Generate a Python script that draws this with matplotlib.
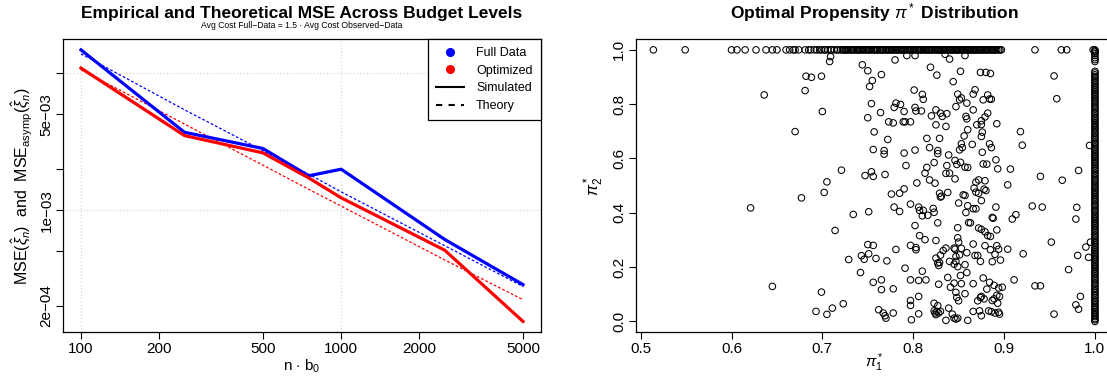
import numpy as np
import matplotlib
matplotlib.use('Agg')
import matplotlib.pyplot as plt
from matplotlib.lines import Line2D

plt.rcParams['font.family'] = ['Liberation Sans', 'DejaVu Sans']
plt.rcParams['mathtext.fontset'] = 'custom'
plt.rcParams['mathtext.rm'] = 'Liberation Sans'
plt.rcParams['mathtext.it'] = 'Liberation Sans:italic'

# ---- left panel data ----
n_budget = [100, 250, 500, 750, 1000, 2500, 5000]
mse_full_sim = [0.01479, 0.00370, 0.00282, 0.00178, 0.00199, 0.000611, 0.000286]
mse_opt_sim = [0.01089, 0.00350, 0.00262, 0.00172, 0.00123, 0.000510, 0.000154]
mse_full_theory = [0.01383, 0.00540, 0.00272, 0.00183, 0.00136, 0.000550, 0.000277]
mse_opt_theory = [0.01058, 0.00425, 0.00213, 0.00142, 0.00107, 0.000433, 0.000222]

y_ticks = [2e-4, 5e-4, 1e-3, 2e-3, 5e-3, 1e-2]
y_ticklabels = ['2e\u221204', '', '1e\u221203', '', '5e\u221203', '']
x_ticks = [100, 200, 500, 1000, 2000, 5000]

# ---- right panel data ----
# points sitting on pi2 = 1
top_pi1 = [0.514, 0.549, 0.600, 0.606, 0.615, 0.627, 0.638, 0.645, 0.650, 0.660,
           0.664, 0.668, 0.670, 0.674, 0.681, 0.685, 0.687, 0.691, 0.694, 0.697,
           0.699, 0.702, 0.703, 0.706, 0.709, 0.710, 0.713, 0.716, 0.717, 0.720,
           0.722, 0.725, 0.726, 0.729, 0.731, 0.732, 0.735, 0.737, 0.740, 0.741,
           0.744, 0.745, 0.747, 0.750, 0.751, 0.754, 0.756, 0.757, 0.760, 0.761,
           0.763, 0.766, 0.767, 0.769, 0.772, 0.773, 0.776, 0.777, 0.779, 0.782,
           0.783, 0.785, 0.787, 0.790, 0.791, 0.793, 0.796, 0.797, 0.800, 0.801,
           0.803, 0.806, 0.807, 0.809, 0.811, 0.814, 0.815, 0.817, 0.820, 0.821,
           0.823, 0.826, 0.827, 0.829, 0.832, 0.833, 0.835, 0.837, 0.840, 0.841,
           0.843, 0.846, 0.847, 0.849, 0.852, 0.853, 0.855, 0.858, 0.859, 0.861,
           0.863, 0.866, 0.867, 0.869, 0.872, 0.873, 0.875, 0.878, 0.879, 0.881,
           0.883, 0.886, 0.887, 0.889, 0.892, 0.894, 0.897, 0.934, 0.963, 0.969,
           0.998, 1.000]
top_pi1_more = [0.7235, 0.7275, 0.7335, 0.7385, 0.7425, 0.7485, 0.7525, 0.7585,
                0.7645, 0.7705, 0.7745, 0.7805, 0.7865, 0.7885, 0.7945, 0.7985,
                0.8045, 0.8085, 0.8125, 0.8165, 0.8185, 0.8245, 0.8285, 0.8305,
                0.8345, 0.8385, 0.8425, 0.8445, 0.8485, 0.8505, 0.8545, 0.8565,
                0.8605, 0.8625, 0.8645, 0.8685, 0.8705, 0.8745, 0.8765, 0.8805,
                0.8845, 0.8885, 0.8905, 0.8955]

# points sitting on pi1 = 1
col_pi2 = [0.000, 0.006, 0.011, 0.018, 0.024, 0.029, 0.036, 0.043, 0.048, 0.055,
           0.061, 0.067, 0.074, 0.079, 0.086, 0.093, 0.098, 0.105, 0.111, 0.118,
           0.123, 0.130, 0.137, 0.142, 0.149, 0.155, 0.161, 0.168, 0.174, 0.180,
           0.187, 0.193, 0.199, 0.206, 0.212, 0.218, 0.225, 0.231, 0.237, 0.243,
           0.250, 0.256, 0.262, 0.269, 0.275, 0.281, 0.288, 0.294, 0.300, 0.307,
           0.313, 0.319, 0.326, 0.332, 0.338, 0.345, 0.351, 0.357, 0.364, 0.370,
           0.376, 0.383, 0.389, 0.395, 0.402, 0.408, 0.414, 0.421, 0.427, 0.433,
           0.440, 0.446, 0.452, 0.459, 0.465, 0.471, 0.478, 0.484, 0.490, 0.497,
           0.503, 0.509, 0.516, 0.522, 0.528, 0.535, 0.541, 0.547, 0.554, 0.560,
           0.566, 0.573, 0.579, 0.585, 0.592, 0.598, 0.604, 0.611, 0.617, 0.623,
           0.630, 0.636, 0.642, 0.649, 0.655, 0.661, 0.668, 0.674, 0.680, 0.687,
           0.693, 0.699, 0.706, 0.712, 0.718, 0.725, 0.731, 0.737, 0.744, 0.750,
           0.756, 0.763, 0.769, 0.775, 0.782, 0.788, 0.794, 0.801, 0.807, 0.813,
           0.820, 0.826, 0.832, 0.839, 0.845, 0.851, 0.858, 0.864, 0.870, 0.877,
           0.883, 0.889, 0.896, 0.902, 0.908, 0.915, 0.921, 0.957, 0.964, 0.971,
           0.979, 0.986, 0.992, 0.996]

# interior points
pi1_pts = [0.709, 0.708, 0.780, 0.793, 0.802, 0.835, 0.840, 0.857, 0.744, 0.750,
           0.755, 0.752, 0.765, 0.819, 0.826, 0.852, 0.874, 0.880, 0.885, 0.844,
           0.682, 0.688, 0.699, 0.681, 0.636, 0.801, 0.810, 0.811, 0.849, 0.851,
           0.853, 0.868, 0.866, 0.882, 0.884, 0.886, 0.877, 0.955, 0.958, 0.754,
           0.781, 0.779, 0.786, 0.790, 0.700, 0.802, 0.803, 0.809, 0.825, 0.830,
           0.832, 0.837, 0.847, 0.859, 0.858, 0.859, 0.866, 0.870, 0.875, 0.879,
           0.882, 0.875, 0.764, 0.750, 0.773, 0.778, 0.789, 0.791, 0.797, 0.820,
           0.825, 0.836, 0.892, 0.670, 0.757, 0.772, 0.815, 0.829, 0.856, 0.860,
           0.875, 0.876, 0.918, 0.920, 0.853, 0.851, 0.854, 0.865, 0.884, 0.886,
           0.994, 0.756, 0.768, 0.768, 0.790, 0.802, 0.818, 0.827, 0.827, 0.839,
           0.876, 0.823, 0.815, 0.837, 0.846, 0.848, 0.852, 0.857, 0.860, 0.877,
           0.881, 0.891, 0.893, 0.907, 0.982, 0.792, 0.721, 0.747, 0.754, 0.756,
           0.769, 0.705, 0.813, 0.818, 0.824, 0.804, 0.836, 0.840, 0.846, 0.869,
           0.872, 0.879, 0.904, 0.940, 0.964, 0.702, 0.790, 0.776, 0.785, 0.829,
           0.830, 0.831, 0.838, 0.855, 0.857, 0.867, 0.869, 0.872, 0.878, 0.880,
           0.677, 0.621, 0.751, 0.779, 0.785, 0.797, 0.806, 0.807, 0.811, 0.810,
           0.816, 0.822, 0.823, 0.850, 0.858, 0.860, 0.866, 0.869, 0.875, 0.891,
           0.931, 0.942, 0.913, 0.909, 0.980, 0.979, 0.734, 0.714, 0.802, 0.827,
           0.849, 0.861, 0.863, 0.872, 0.875, 0.879, 0.882, 0.885, 0.887, 0.888,
           0.892, 0.807, 0.813, 0.849, 0.850, 0.825, 0.866, 0.750, 0.756, 0.797,
           0.803, 0.803, 0.781, 0.845, 0.846, 0.853, 0.836, 0.833, 0.830, 0.879,
           0.885, 0.892, 0.894, 0.904, 0.952, 0.990, 0.995, 0.993, 0.851, 0.847,
           0.847, 0.859, 0.868, 0.871, 0.874, 0.887, 0.890, 0.896, 0.921, 0.981,
           0.729, 0.743, 0.746, 0.751, 0.759, 0.771, 0.825, 0.827, 0.828, 0.829,
           0.840, 0.845, 0.849, 0.857, 0.971, 0.791, 0.742, 0.810, 0.859, 0.852,
           0.838, 0.645, 0.699, 0.756, 0.765, 0.765, 0.778, 0.797, 0.806, 0.814,
           0.828, 0.841, 0.845, 0.853, 0.866, 0.877, 0.884, 0.889, 0.894, 0.898,
           0.881, 0.911, 0.934, 0.940, 0.984, 0.806, 0.797, 0.797, 0.857, 0.847,
           0.848, 0.850, 0.871, 0.874, 0.875, 0.878, 0.889, 0.892, 0.895, 0.893,
           0.887, 0.839, 0.711, 0.723, 0.693, 0.705, 0.762, 0.767, 0.770, 0.769,
           0.778, 0.798, 0.806, 0.823, 0.823, 0.824, 0.826, 0.827, 0.828, 0.830,
           0.825, 0.836, 0.843, 0.845, 0.847, 0.849, 0.860, 0.866, 0.873, 0.875,
           0.883, 0.886, 0.890, 0.894, 0.895, 0.955, 0.979, 0.982]
pi2_pts = [0.975, 0.957, 0.963, 0.979, 0.979, 0.984, 0.966, 0.979, 0.945, 0.923,
           0.887, 0.865, 0.909, 0.936, 0.907, 0.921, 0.917, 0.917, 0.913, 0.883,
           0.903, 0.899, 0.903, 0.850, 0.834, 0.852, 0.836, 0.818, 0.837, 0.816,
           0.823, 0.853, 0.837, 0.834, 0.819, 0.818, 0.816, 0.904, 0.820, 0.802,
           0.804, 0.788, 0.799, 0.773, 0.773, 0.788, 0.775, 0.775, 0.779, 0.767,
           0.755, 0.765, 0.791, 0.804, 0.755, 0.746, 0.779, 0.724, 0.725, 0.753,
           0.767, 0.739, 0.769, 0.750, 0.735, 0.731, 0.735, 0.735, 0.735, 0.757,
           0.724, 0.718, 0.728, 0.699, 0.698, 0.670, 0.674, 0.674, 0.683, 0.706,
           0.681, 0.697, 0.699, 0.649, 0.654, 0.632, 0.640, 0.652, 0.654, 0.640,
           0.648, 0.633, 0.629, 0.616, 0.620, 0.631, 0.640, 0.629, 0.618, 0.613,
           0.623, 0.585, 0.567, 0.574, 0.593, 0.578, 0.586, 0.568, 0.567, 0.580,
           0.579, 0.595, 0.562, 0.561, 0.556, 0.574, 0.557, 0.537, 0.551, 0.534,
           0.541, 0.514, 0.546, 0.521, 0.509, 0.510, 0.545, 0.546, 0.525, 0.513,
           0.521, 0.518, 0.503, 0.534, 0.520, 0.475, 0.488, 0.469, 0.472, 0.472,
           0.458, 0.461, 0.475, 0.466, 0.464, 0.491, 0.476, 0.472, 0.487, 0.482,
           0.455, 0.418, 0.404, 0.421, 0.405, 0.432, 0.421, 0.409, 0.409, 0.389,
           0.391, 0.416, 0.402, 0.436, 0.401, 0.426, 0.415, 0.415, 0.445, 0.421,
           0.425, 0.421, 0.393, 0.377, 0.420, 0.377, 0.394, 0.335, 0.353, 0.363,
           0.345, 0.364, 0.363, 0.344, 0.339, 0.330, 0.316, 0.313, 0.383, 0.380,
           0.337, 0.316, 0.301, 0.308, 0.292, 0.298, 0.285, 0.283, 0.280, 0.280,
           0.272, 0.264, 0.265, 0.270, 0.266, 0.269, 0.270, 0.261, 0.244, 0.279,
           0.264, 0.279, 0.266, 0.266, 0.292, 0.274, 0.292, 0.236, 0.245, 0.239,
           0.221, 0.253, 0.243, 0.243, 0.221, 0.220, 0.247, 0.226, 0.249, 0.243,
           0.228, 0.242, 0.229, 0.249, 0.232, 0.223, 0.233, 0.215, 0.206, 0.217,
           0.221, 0.211, 0.202, 0.209, 0.191, 0.196, 0.180, 0.185, 0.180, 0.169,
           0.162, 0.129, 0.108, 0.144, 0.153, 0.117, 0.120, 0.153, 0.151, 0.153,
           0.137, 0.126, 0.141, 0.139, 0.139, 0.160, 0.144, 0.133, 0.123, 0.126,
           0.119, 0.153, 0.131, 0.131, 0.092, 0.092, 0.077, 0.059, 0.102, 0.107,
           0.088, 0.076, 0.076, 0.088, 0.092, 0.083, 0.083, 0.096, 0.092, 0.067,
           0.077, 0.049, 0.049, 0.065, 0.037, 0.026, 0.043, 0.031, 0.012, 0.021,
           0.031, 0.006, 0.028, 0.067, 0.039, 0.031, 0.037, 0.058, 0.031, 0.037,
           0.025, 0.004, 0.027, 0.012, 0.009, 0.012, 0.004, 0.037, 0.039, 0.021,
           0.039, 0.036, 0.031, 0.034, 0.027, 0.027, 0.061, 0.045]

W, H = 1107, 377
fig = plt.figure(figsize=(W / 100, H / 100), dpi=100)

# ================= left panel =================
ax1 = fig.add_axes([63.3 / W, 1 - 332.3 / H, 477.4 / W, 293.3 / H])
ax1.set_xscale('log')
ax1.set_yscale('log')
ax1.plot(n_budget, mse_full_theory, color='blue', lw=0.9, ls=(0, (2.2, 1.6)))
ax1.plot(n_budget, mse_opt_theory, color='red', lw=0.9, ls=(0, (2.2, 1.6)))
ax1.plot(n_budget, mse_full_sim, color='blue', lw=2.3, solid_joinstyle='round')
ax1.plot(n_budget, mse_opt_sim, color='red', lw=2.3, solid_joinstyle='round')

lx = np.log10([min(n_budget), max(n_budget)])
ex = 0.04 * (lx[1] - lx[0])
ax1.set_xlim(10 ** (lx[0] - ex), 10 ** (lx[1] + ex))
ally = np.log10(mse_full_sim + mse_opt_sim + mse_full_theory + mse_opt_theory)
ey = 0.04 * (ally.max() - ally.min())
ax1.set_ylim(10 ** (ally.min() - ey), 10 ** (ally.max() + ey))

ax1.set_xticks(x_ticks)
ax1.set_xticklabels([str(v) for v in x_ticks])
ax1.set_yticks(y_ticks)
ax1.set_yticklabels(y_ticklabels, rotation=90, va='center')
ax1.minorticks_off()
for v in [100, 1000]:
    ax1.axvline(v, color='#d3d3d3', lw=0.8, ls=(0, (1, 2)), zorder=0)
for v in [1e-3, 1e-2]:
    ax1.axhline(v, color='#d3d3d3', lw=0.8, ls=(0, (1, 2)), zorder=0)

ax1.tick_params(labelsize=11, length=5, width=0.8, pad=2, direction='out')
ax1.set_xlabel(r'n $\cdot$ b$_0$', fontsize=11, labelpad=1)
ax1.set_ylabel(r'MSE$(\hat{\xi}_n)$  and  MSE$_{\mathrm{asymp}}(\hat{\xi}_n)$',
               fontsize=11.5, labelpad=3)
ax1.set_title('Empirical and Theoretical MSE Across Budget Levels',
              fontsize=12.5, fontweight='bold', pad=15)
ax1.text(0.5, 1.045, 'Avg Cost Full\u2212Data = 1.5 \u00b7 Avg Cost Observed\u2212Data',
         transform=ax1.transAxes, ha='center', va='center', fontsize=6.2)

handles = [Line2D([], [], color='blue', marker='o', ls='none', markersize=5.5),
           Line2D([], [], color='red', marker='o', ls='none', markersize=5.5),
           Line2D([], [], color='black', lw=1.5),
           Line2D([], [], color='black', lw=1.5, ls=(0, (3, 3)))]
leg = ax1.legend(handles, ['Full Data', 'Optimized', 'Simulated', 'Theory'],
                 loc='upper right', bbox_to_anchor=(1, 1), borderaxespad=0,
                 fancybox=False, framealpha=1, edgecolor='black', fontsize=9,
                 handlelength=2.2, handletextpad=1.0, labelspacing=0.45,
                 borderpad=0.65)
leg.get_frame().set_linewidth(0.9)

# ================= right panel =================
ax2 = fig.add_axes([635.7 / W, 1 - 332.3 / H, 476.9 / W, 293.3 / H])
all_pi1 = top_pi1 + top_pi1_more + [1.0] * len(col_pi2) + pi1_pts
all_pi2 = [1.0] * (len(top_pi1) + len(top_pi1_more)) + col_pi2 + pi2_pts
ax2.scatter(all_pi1, all_pi2, s=22, facecolors='none', edgecolors='black',
            linewidths=0.75)
ex2 = 0.04 * (max(all_pi1) - min(all_pi1))
ax2.set_xlim(min(all_pi1) - ex2, max(all_pi1) + ex2)
ax2.set_ylim(-0.04, 1.04)
ax2.set_xticks([0.5, 0.6, 0.7, 0.8, 0.9, 1.0])
ax2.set_xticklabels(['0.5', '0.6', '0.7', '0.8', '0.9', '1.0'])
ax2.set_yticks([0.0, 0.2, 0.4, 0.6, 0.8, 1.0])
ax2.set_yticklabels(['0.0', '0.2', '0.4', '0.6', '0.8', '1.0'], rotation=90, va='center')
ax2.tick_params(labelsize=11, length=5, width=0.8, pad=2, direction='out')
ax2.set_xlabel(r'$\pi_1^*$', fontsize=11, labelpad=-3)
ax2.set_ylabel(r'$\pi_2^*$', fontsize=12, labelpad=4)
ax2.set_title(r'Optimal Propensity $\pi^*$ Distribution', fontsize=12.5,
              fontweight='bold', pad=15)

for ax in (ax1, ax2):
    for s in ax.spines.values():
        s.set_linewidth(0.9)

fig.savefig('out.png', dpi=100)
